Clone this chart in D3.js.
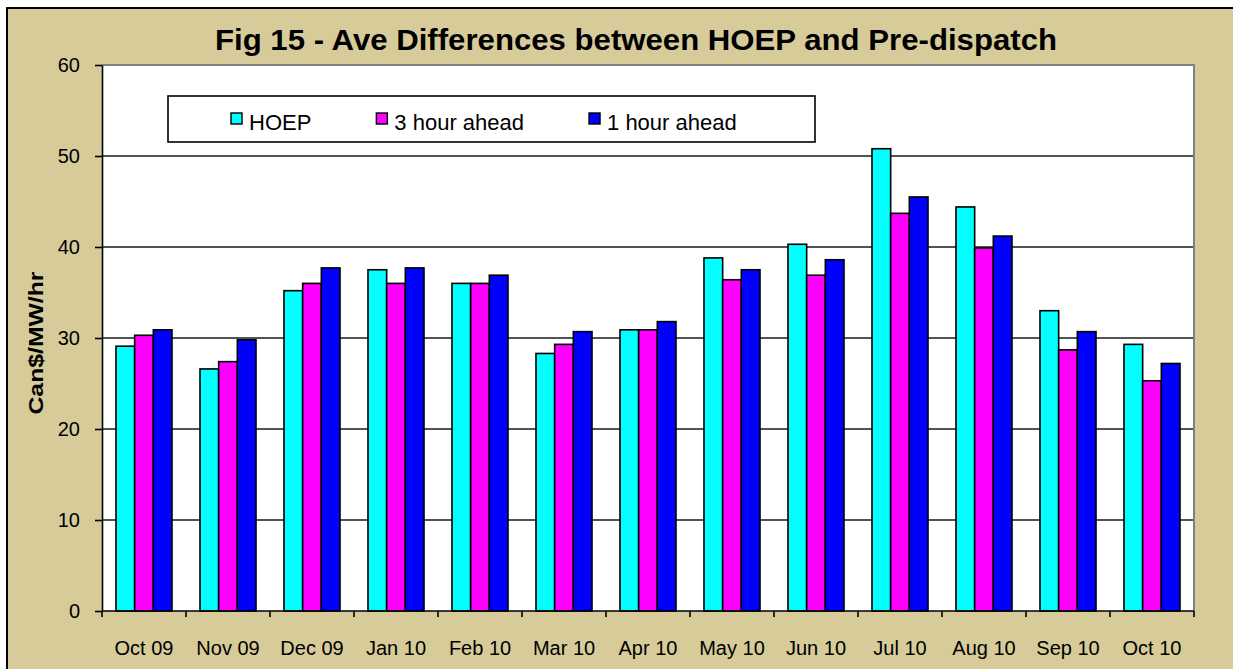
<!DOCTYPE html>
<html>
<head>
<meta charset="utf-8">
<script src="https://cdn.jsdelivr.net/npm/d3@7"></script>
<style>
  html, body { margin: 0; padding: 0; background: #fff; }
  svg { display: block; font-family: Arial, "Liberation Sans", sans-serif; }
</style>
</head>
<body>
<svg id="chart" width="1233" height="669"></svg>
<script>
// chart values
let months = ["Oct 09", "Nov 09", "Dec 09", "Jan 10", "Feb 10", "Mar 10", "Apr 10",
              "May 10", "Jun 10", "Jul 10", "Aug 10", "Sep 10", "Oct 10"];
let seriesNames = ["HOEP", "3 hour ahead", "1 hour ahead"];
let hoep      = [29.1, 26.6, 35.2, 37.5, 36.0, 28.3, 30.9, 38.8, 40.3, 50.8, 44.4, 33.0, 29.3];
let threeHour = [30.3, 27.4, 36.0, 36.0, 36.0, 29.3, 30.9, 36.4, 36.9, 43.7, 39.9, 28.7, 25.3];
let oneHour   = [30.9, 29.8, 37.7, 37.7, 36.9, 30.7, 31.8, 37.5, 38.6, 45.5, 41.2, 30.7, 27.2];
let yTicks = [0, 10, 20, 30, 40, 50, 60];
let colors = ["#00FFFF", "#FF00FF", "#0000FF"];

let seriesValues = [hoep, threeHour, oneHour];

let svg = d3.select("#chart");

// plot box
let plotLeft = 102, plotRight = 1194, plotTop = 65, plotBottom = 611;

// outer tan frame (runs off the right and bottom edges)
svg.append("rect")
  .attr("x", 7).attr("y", 8)
  .attr("width", 1240).attr("height", 680)
  .attr("fill", "#D7CC99")
  .attr("stroke", "#000")
  .attr("stroke-width", 2);

// scales
let x = d3.scaleBand()
  .domain(months)
  .range([plotLeft, plotRight])
  .paddingInner(1 / 3)
  .paddingOuter(1 / 6);

let xSub = d3.scaleBand()
  .domain(seriesNames)
  .range([0, x.bandwidth()]);

let y = d3.scaleLinear()
  .domain([0, 60])
  .range([plotBottom, plotTop]);

// plot area background, grey border top and right
svg.append("rect")
  .attr("x", plotLeft).attr("y", plotTop)
  .attr("width", plotRight - plotLeft).attr("height", plotBottom - plotTop)
  .attr("fill", "#fff");

svg.append("path")
  .attr("d", `M${plotLeft},${plotTop}H${plotRight}V${plotBottom}`)
  .attr("fill", "none")
  .attr("stroke", "#808080")
  .attr("stroke-width", 2);

// gridlines
svg.append("g")
  .selectAll("line")
  .data(yTicks.filter((t) => t > 0 && t < 60))
  .enter()
  .append("line")
  .attr("x1", plotLeft).attr("x2", plotRight - 1)
  .attr("y1", (d) => y(d)).attr("y2", (d) => y(d))
  .attr("stroke", "#1a1a1a")
  .attr("stroke-width", 1.6);

// bars
let groups = svg.append("g")
  .selectAll("g")
  .data(months)
  .enter()
  .append("g")
  .attr("transform", (d) => `translate(${x(d)},0)`);

groups.selectAll("rect")
  .data((d, i) => seriesNames.map((name, s) => ({ name: name, value: seriesValues[s][i], s: s })))
  .enter()
  .append("rect")
  .attr("x", (d) => xSub(d.name))
  .attr("y", (d) => y(d.value))
  .attr("width", xSub.bandwidth())
  .attr("height", (d) => y(0) - y(d.value))
  .attr("fill", (d) => colors[d.s])
  .attr("stroke", "#000")
  .attr("stroke-width", 1.6);

// y axis
let yAxis = d3.axisLeft(y)
  .tickValues(yTicks)
  .tickSize(7)
  .tickPadding(15)
  .tickSizeOuter(0);

let yg = svg.append("g")
  .attr("transform", `translate(${plotLeft},0)`)
  .call(yAxis);
yg.select(".domain").attr("stroke", "#000").attr("stroke-width", 1.6);
yg.selectAll(".tick line").attr("stroke", "#000").attr("stroke-width", 1.6);
yg.selectAll(".tick text")
  .attr("fill", "#000")
  .style("font-size", "20px")
  .style("font-family", "Arial, 'Liberation Sans', sans-serif");

// x axis: labels centred, ticks at category boundaries
let xAxis = d3.axisBottom(x).tickSize(0).tickPadding(30);
let xg = svg.append("g")
  .attr("transform", `translate(0,${plotBottom})`)
  .call(xAxis);
xg.select(".domain").remove();
xg.selectAll(".tick text")
  .attr("fill", "#000")
  .style("font-size", "20px")
  .style("font-family", "Arial, 'Liberation Sans', sans-serif");

let boundaries = d3.range(months.length + 1).map((i) => plotLeft + i * x.step());
svg.append("line")
  .attr("x1", plotLeft).attr("x2", plotRight)
  .attr("y1", plotBottom).attr("y2", plotBottom)
  .attr("stroke", "#000").attr("stroke-width", 1.6);
svg.append("g")
  .selectAll("line")
  .data(boundaries)
  .enter()
  .append("line")
  .attr("x1", (d) => d).attr("x2", (d) => d)
  .attr("y1", plotBottom).attr("y2", plotBottom + 6)
  .attr("stroke", "#000").attr("stroke-width", 1.6);

// y axis title
svg.append("text")
  .attr("transform", "translate(43,343) rotate(-90)")
  .attr("text-anchor", "middle")
  .attr("font-weight", "bold")
  .attr("font-size", 21)
  .attr("textLength", 143)
  .attr("lengthAdjust", "spacingAndGlyphs")
  .text("Can$/MW/hr");

// chart title
svg.append("text")
  .attr("x", 636).attr("y", 50)
  .attr("text-anchor", "middle")
  .attr("font-weight", "bold")
  .attr("font-size", 29)
  .attr("textLength", 842)
  .attr("lengthAdjust", "spacingAndGlyphs")
  .text("Fig 15 - Ave Differences between HOEP and Pre-dispatch");

// legend
svg.append("rect")
  .attr("x", 168).attr("y", 96)
  .attr("width", 647).attr("height", 46)
  .attr("fill", "#fff")
  .attr("stroke", "#000")
  .attr("stroke-width", 1.6);

let lx = 231;
seriesNames.forEach((name, s) => {
  svg.append("rect")
    .attr("x", lx).attr("y", 113)
    .attr("width", 11).attr("height", 11)
    .attr("fill", colors[s])
    .attr("stroke", "#000")
    .attr("stroke-width", 1.4);
  let t = svg.append("text")
    .attr("x", lx + 18).attr("y", 129.5)
    .attr("font-size", 22)
    .text(name);
  lx = lx + 18 + t.node().getComputedTextLength() + 65;
});
</script>
</body>
</html>
